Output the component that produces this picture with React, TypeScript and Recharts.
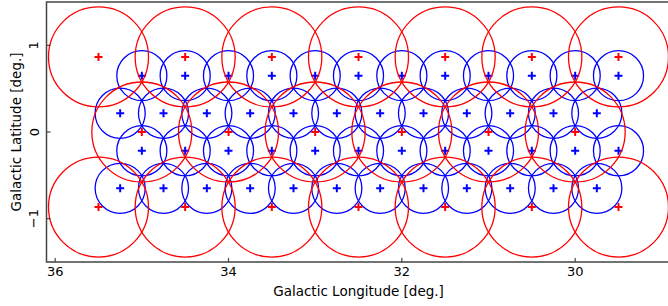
import { ScatterChart, Scatter, XAxis, YAxis, ReferenceArea } from "recharts";

// pointing centres (galactic lon / lat, degrees)
const redRowLat = [0.866, 0, -0.866];
const redTopLon = [35.5, 34.5, 33.5, 32.5, 31.5, 30.5, 29.5];
const redMidLon = [35, 34, 33, 32, 31, 30];
const redBotLon = [35.5, 34.5, 33.5, 32.5, 31.5, 30.5, 29.5];

const blueRowLat = [0.65, 0.2165, -0.2165, -0.65];
const blueEvenLon = [35, 34.5, 34, 33.5, 33, 32.5, 32, 31.5, 31, 30.5, 30, 29.5];
const blueOddLon = [35.25, 34.75, 34.25, 33.75, 33.25, 32.75, 32.25, 31.75, 31.25, 30.75, 30.25, 29.75];

// beam radii in degrees
const redRadius = 0.577;
const blueRadius = 0.289;

const xTicks = [30, 32, 34, 36];
const yTicks = [-1, 0, 1];
const xDomain: [number, number] = [28.9, 36.1];
const yDomain: [number, number] = [-1.5, 1.5];

const toPoints = (lons: number[], lat: number) => lons.map((lon) => ({ lon, lat }));

const redData = [
  ...toPoints(redTopLon, redRowLat[0]),
  ...toPoints(redMidLon, redRowLat[1]),
  ...toPoints(redBotLon, redRowLat[2]),
];
const blueData = [
  ...toPoints(blueEvenLon, blueRowLat[0]),
  ...toPoints(blueOddLon, blueRowLat[1]),
  ...toPoints(blueEvenLon, blueRowLat[2]),
  ...toPoints(blueOddLon, blueRowLat[3]),
];

const LEFT = 46.5;
const TOP = 2;
const PLOT_W = 624;
const PLOT_H = 260;
const BOTTOM = TOP + PLOT_H;
const pxPerDeg = PLOT_W / (xDomain[1] - xDomain[0]);

const FONT = "DejaVu Sans";
const FRAME = "#444";

const ring = (color: string, radiusDeg: number) => (p: any) =>
  (
    <circle
      cx={p.cx}
      cy={p.cy}
      r={radiusDeg * pxPerDeg}
      fill="none"
      stroke={color}
      strokeWidth={1.3}
    />
  );

const plus = (color: string) => (p: any) =>
  (
    <g stroke={color} strokeWidth={2}>
      <line x1={p.cx - 4} x2={p.cx + 4} y1={p.cy} y2={p.cy} />
      <line x1={p.cx} x2={p.cx} y1={p.cy - 4} y2={p.cy + 4} />
    </g>
  );

const XTick = ({ x, payload }: any) => (
  <g>
    <line x1={x} x2={x} y1={BOTTOM} y2={BOTTOM - 4} stroke={FRAME} strokeWidth={1.2} />
    <text x={x} y={BOTTOM + 14} textAnchor="middle" fontSize={13} fontFamily={FONT} fill="#000">
      {payload.value}
    </text>
  </g>
);

const YTick = ({ y, payload }: any) => {
  const label = payload.value < 0 ? `\u2212${Math.abs(payload.value)}` : `${payload.value}`;
  return (
    <g>
      <line x1={LEFT} x2={LEFT + 4} y1={y} y2={y} stroke={FRAME} strokeWidth={1.2} />
      <text
        x={38.5}
        y={y}
        transform={`rotate(-90, 38.5, ${y})`}
        textAnchor="middle"
        fontSize={13}
        fontFamily={FONT}
        fill="#000"
      >
        {label}
      </text>
    </g>
  );
};

export default function App() {
  return (
    <div style={{ position: "absolute", left: 0, top: 0, width: 668, height: 306, overflow: "hidden", background: "#fff" }}>
      <ScatterChart
        width={680}
        height={306}
        margin={{ top: TOP, right: 680 - LEFT - PLOT_W, bottom: 0, left: LEFT - 46 }}
      >
        <XAxis
          type="number"
          dataKey="lon"
          domain={xDomain}
          reversed
          allowDataOverflow
          ticks={xTicks}
          height={306 - BOTTOM}
          axisLine={false}
          tickLine={false}
          tick={<XTick />}
          label={{
            content: ({ viewBox }: any) => (
              <text
                x={viewBox.x + viewBox.width / 2}
                y={BOTTOM + 34}
                textAnchor="middle"
                fontSize={13.5}
                fontFamily={FONT}
                fill="#000"
              >
                Galactic Longitude [deg.]
              </text>
            ),
          }}
        />
        <YAxis
          type="number"
          dataKey="lat"
          domain={yDomain}
          allowDataOverflow
          ticks={yTicks}
          width={46}
          axisLine={false}
          tickLine={false}
          tick={<YTick />}
          label={{
            content: () => (
              <text
                x={20.5}
                y={TOP + PLOT_H / 2}
                transform={`rotate(-90, 20.5, ${TOP + PLOT_H / 2})`}
                textAnchor="middle"
                fontSize={13.5}
                fontFamily={FONT}
                fill="#000"
              >
                Galactic Latitude [deg.]
              </text>
            ),
          }}
        />
        <ReferenceArea
          x1={xDomain[0]}
          x2={xDomain[1]}
          y1={yDomain[0]}
          y2={yDomain[1]}
          fill="none"
          stroke={FRAME}
          strokeWidth={1.5}
        />
        <Scatter data={blueData} shape={ring("#0000ff", blueRadius)} isAnimationActive={false} />
        <Scatter data={blueData} shape={plus("#0000ff")} isAnimationActive={false} />
        <Scatter data={redData} shape={ring("#ff0000", redRadius)} isAnimationActive={false} />
        <Scatter data={redData} shape={plus("#ff0000")} isAnimationActive={false} />
      </ScatterChart>
    </div>
  );
}
